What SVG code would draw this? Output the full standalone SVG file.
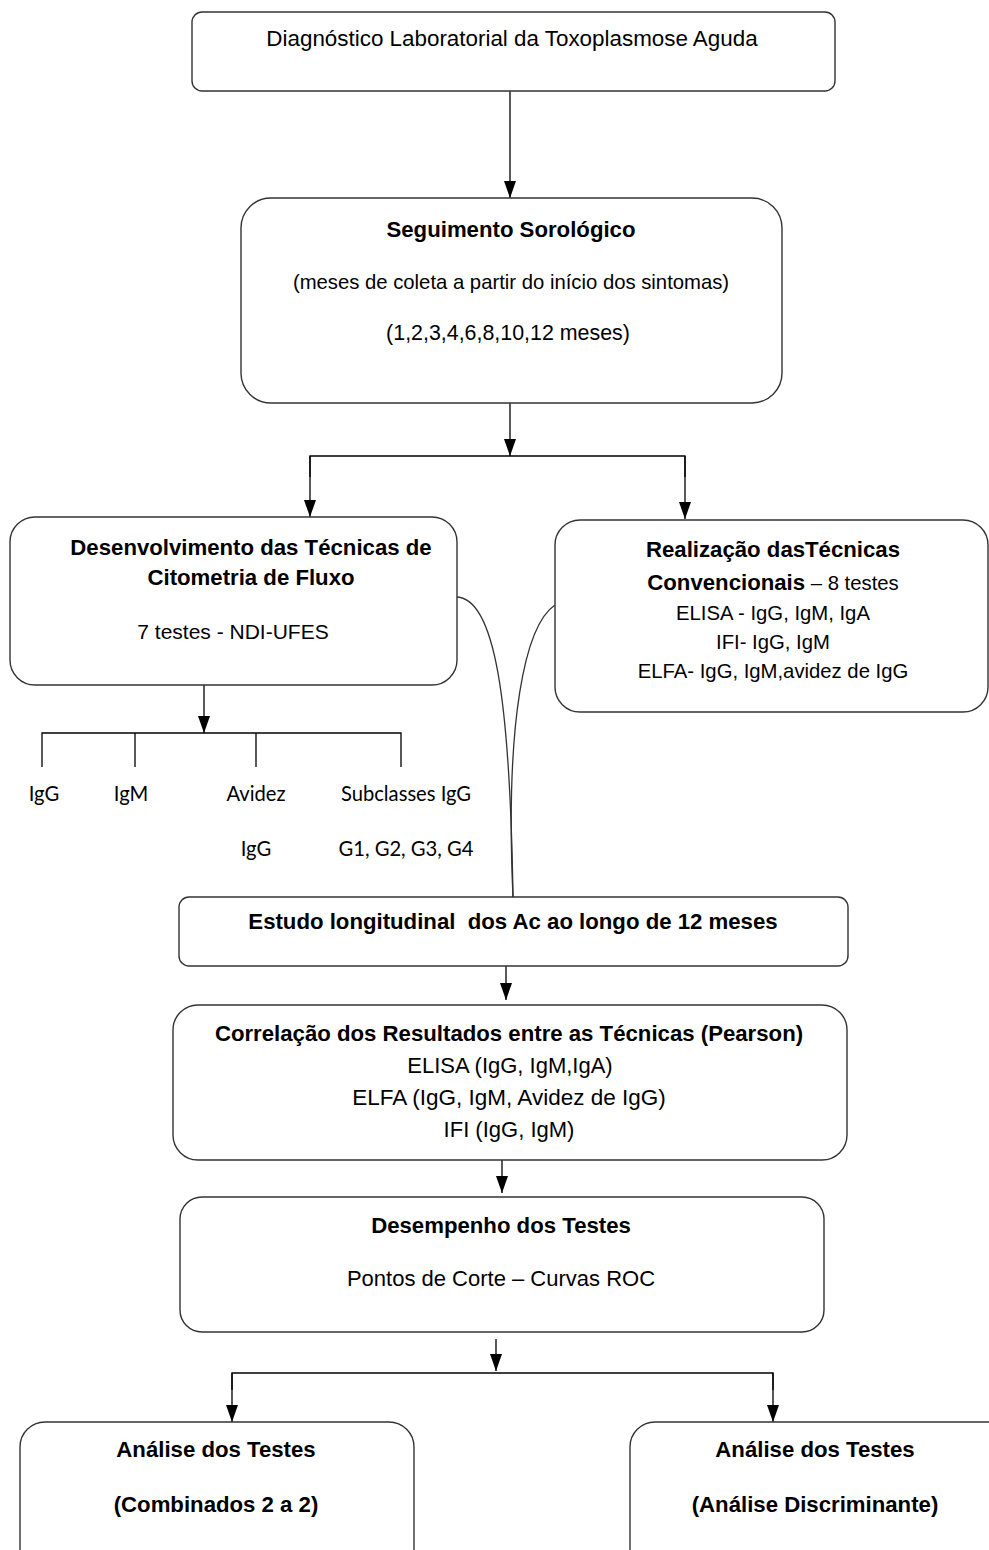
<svg xmlns="http://www.w3.org/2000/svg" width="989" height="1550" viewBox="0 0 989 1550">
<defs>
<marker id="ah" viewBox="0 0 17 12" refX="17" refY="6" markerWidth="17" markerHeight="12" markerUnits="userSpaceOnUse" orient="auto">
<path d="M0,0 L17,6 L0,12 Z" fill="#000"/>
</marker>
<style>
.box{fill:#fff;stroke:#333;stroke-width:1.4}
.t{font-family:"Liberation Sans",Arial,sans-serif;font-size:22px;fill:#000;text-anchor:middle}
.b{font-weight:bold;font-size:22.2px}
.s{font-size:20.3px}
.c{font-family:Lato,"Open Sans",sans-serif;font-size:20.2px;fill:#000;text-anchor:middle}
.ln{fill:none;stroke:#000;stroke-width:1.3}
.ar{fill:none;stroke:#000;stroke-width:1.3;marker-end:url(#ah)}
.cv{fill:none;stroke:#333;stroke-width:1.3}
</style>
</defs>
<rect width="989" height="1550" fill="#fff"/>
<g id="connectors">
<line class="ar" x1="510" y1="91" x2="510" y2="198"/>
<line class="ar" x1="510" y1="403" x2="510" y2="456"/>
<polyline class="ln" points="310,477 310,456 685,456 685,477"/>
<line class="ar" x1="310" y1="456" x2="310" y2="517"/>
<line class="ar" x1="685" y1="456" x2="685" y2="519"/>
<line class="ar" x1="204" y1="685" x2="204" y2="733"/>
<polyline class="ln" points="42,767 42,733 401,733 401,767"/>
<line class="ln" x1="135" y1="733" x2="135" y2="767"/>
<line class="ln" x1="256" y1="733" x2="256" y2="767"/>
<path class="cv" d="M456,597 C495,597 510,700 513,897"/>
<path class="cv" d="M555,605 C525,625 505,720 513,897"/>
<line class="ar" x1="506" y1="966" x2="506" y2="1000"/>
<line class="ar" x1="502" y1="1160" x2="502" y2="1193"/>
<line class="ar" x1="496" y1="1339" x2="496" y2="1371"/>
<polyline class="ln" points="232,1390 232,1373 773,1373 773,1390"/>
<line class="ar" x1="232" y1="1373" x2="232" y2="1422"/>
<line class="ar" x1="773" y1="1373" x2="773" y2="1422"/>
</g>
<g id="n1">
<rect class="box" x="192" y="12" width="643" height="79" rx="10"/>
<text class="t" x="512" y="46" style="font-size:22.4px">Diagnóstico Laboratorial da Toxoplasmose Aguda</text>
</g>
<g id="n2">
<rect class="box" x="241" y="198" width="541" height="205" rx="30"/>
<text class="t b" x="511" y="237">Seguimento Sorológico</text>
<text class="t s" x="511" y="289">(meses de coleta a partir do início dos sintomas)</text>
<text class="t" x="508" y="340" style="font-size:21.4px">(1,2,3,4,6,8,10,12 meses)</text>
</g>
<g id="n3">
<rect class="box" x="10" y="517" width="447" height="168" rx="25"/>
<text class="t b" x="251" y="555">Desenvolvimento das Técnicas de</text>
<text class="t b" x="251" y="585">Citometria de Fluxo</text>
<text class="t" x="233" y="639" style="font-size:21px">7 testes - NDI-UFES</text>
</g>
<g id="n4">
<rect class="box" x="555" y="520" width="433" height="192" rx="25"/>
<text class="t b" x="773" y="557">Realização dasTécnicas</text>
<text class="t s" x="773" y="590"><tspan class="b">Convencionais</tspan> – 8 testes</text>
<text class="t s" x="773" y="620">ELISA - IgG, IgM, IgA</text>
<text class="t s" x="773" y="649">IFI- IgG, IgM</text>
<text class="t s" x="773" y="678">ELFA- IgG, IgM,avidez de IgG</text>
</g>
<g id="n5">
<text class="c" x="44" y="801">IgG</text>
<text class="c" x="131" y="801">IgM</text>
<text class="c" x="256" y="801">Avidez</text>
<text class="c" x="406" y="801">Subclasses IgG</text>
<text class="c" x="256" y="856">IgG</text>
<text class="c" x="406" y="856">G1, G2, G3, G4</text>
</g>
<g id="n6">
<rect class="box" x="179" y="897" width="669" height="69" rx="10"/>
<text class="t b" x="513" y="929" xml:space="preserve">Estudo longitudinal  dos Ac ao longo de 12 meses</text>
</g>
<g id="n7">
<rect class="box" x="173" y="1005" width="674" height="155" rx="25"/>
<text class="t b" x="509" y="1041">Correlação dos Resultados entre as Técnicas (Pearson)</text>
<text class="t" x="510" y="1073">ELISA (IgG, IgM,IgA)</text>
<text class="t" x="509" y="1105" style="font-size:22.5px">ELFA (IgG, IgM, Avidez de IgG)</text>
<text class="t" x="509" y="1137">IFI (IgG, IgM)</text>
</g>
<g id="n8">
<rect class="box" x="180" y="1197" width="644" height="135" rx="22"/>
<text class="t b" x="501" y="1233">Desempenho dos Testes</text>
<text class="t" x="501" y="1286">Pontos de Corte – Curvas ROC</text>
</g>
<g id="n9">
<rect class="box" x="20" y="1422" width="394" height="160" rx="25"/>
<text class="t b" x="216" y="1457">Análise dos Testes</text>
<text class="t b" x="216" y="1512">(Combinados 2 a 2)</text>
</g>
<g id="n10">
<rect class="box" x="630" y="1422" width="400" height="160" rx="25"/>
<text class="t b" x="815" y="1457">Análise dos Testes</text>
<text class="t b" x="815" y="1512">(Análise Discriminante)</text>
</g>
</svg>
